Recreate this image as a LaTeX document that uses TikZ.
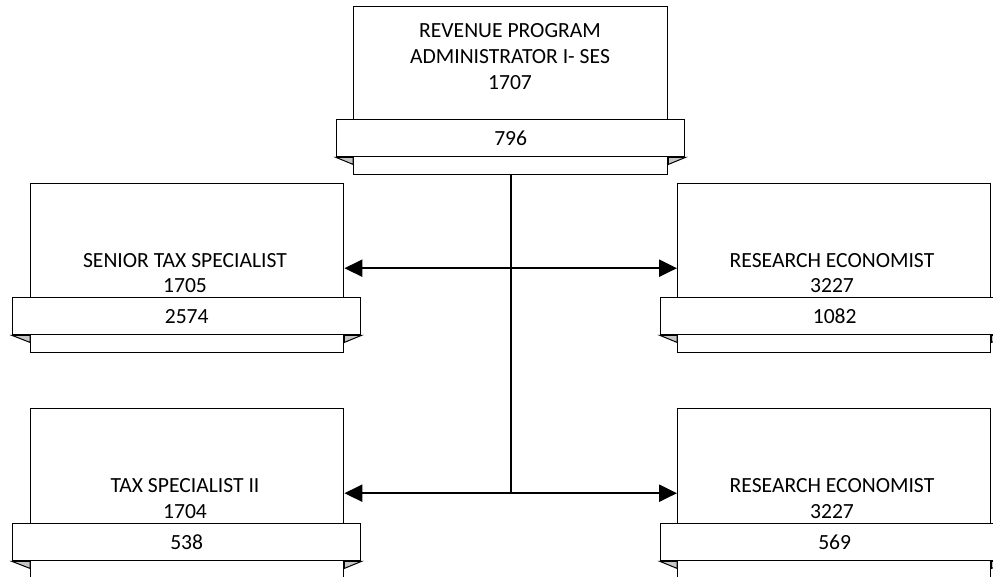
\documentclass[tikz,border=0pt]{standalone}
\usepackage{fontspec}
\setmainfont{Carlito}
\usetikzlibrary{arrows.meta,calc}
\tikzset{
  box/.style={draw=black,line width=1.4pt,fill=white,anchor=north west,inner sep=0pt,minimum width=313pt,minimum height=169pt},
  ribbon/.style={draw=black,line width=1.4pt,fill=white,anchor=north west,inner sep=0pt,minimum width=348pt,minimum height=37pt},
  fold/.style={draw=black,line width=1pt,fill=gray!45},
  txt/.style={align=center,font=\fontsize{21.6}{25.8}\selectfont,inner sep=0pt},
  conn/.style={line width=2.3pt,draw=black},
  tips/.style={{Triangle[length=18pt,width=17pt]}-{Triangle[length=18pt,width=17pt]}}
}
\newcommand{\orgfolds}[2]{%
  \path[fold] (#2.south west) -- (#2.south west -| #1.west) -- ($(#2.south west -| #1.west)+(0,7)$) -- cycle;
  \path[fold] (#2.south east) -- (#2.south east -| #1.east) -- ($(#2.south east -| #1.east)+(0,7)$) -- cycle;
}
\begin{document}
\begin{tikzpicture}[x=1pt,y=-1pt]
\useasboundingbox (0,0) rectangle (993,577);
\clip (0,0) rectangle (993,577);
% top card
\node[box,minimum width=314pt,minimum height=168pt] (top) at (353,6) {};
\node[ribbon] (topr) at (336,119) {};
\orgfolds{top}{topr}
\node[txt] (topt) at (510,56.5) {REVENUE PROGRAM\\ADMINISTRATOR I- SES\\1707};
\node[txt] (topn) at (topr.center) {796};
% middle left
\node[box] (ml) at (30,183) {};
\node[ribbon] (mlr) at (12,297) {};
\orgfolds{ml}{mlr}
\node[txt] (mlt) at (185,273) {SENIOR TAX SPECIALIST\\1705};
\node[txt] (mln) at (mlr.center) {2574};
% middle right
\node[box] (mr) at (677,183) {};
\node[ribbon] (mrr) at (660,297) {};
\orgfolds{mr}{mrr}
\node[txt] (mrt) at (832,273) {RESEARCH ECONOMIST\\3227};
\node[txt] (mrn) at (mrr.center) {1082};
% bottom left
\node[box] (bl) at (30,408) {};
\node[ribbon] (blr) at (12,523) {};
\orgfolds{bl}{blr}
\node[txt] (blt) at (185,498.5) {TAX SPECIALIST II\\1704};
\node[txt] (bln) at (blr.center) {538};
% bottom right
\node[box] (br) at (677,408) {};
\node[ribbon] (brr) at (660,523) {};
\orgfolds{br}{brr}
\node[txt] (brt) at (832,498.5) {RESEARCH ECONOMIST\\3227};
\node[txt] (brn) at (brr.center) {569};
% connectors
\coordinate (j) at (top.south |- bl.east);
\draw[conn] (top.south) -- (j);
\draw[conn,tips] (ml.east) -- (mr.west);
\draw[conn,tips] (bl.east) -- (br.west);
\end{tikzpicture}
\end{document}
